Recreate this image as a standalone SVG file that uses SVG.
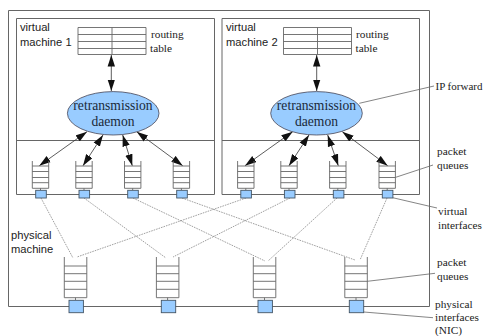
<svg xmlns="http://www.w3.org/2000/svg" width="483" height="336" viewBox="0 0 483 336">
<style>
text{fill:#222}
.s{font:11.2px "Liberation Sans",Arial,sans-serif}
.r{font:11.3px "Liberation Serif","Times New Roman",serif}
.d{font:13.6px "Liberation Serif","Times New Roman",serif;text-anchor:middle;fill:#1a2a3a}
.box{fill:none;stroke:#666;stroke-width:1}
.grid{fill:none;stroke:#666;stroke-width:.9}
.ell{fill:#99ccff;stroke:#445;stroke-width:.8}
.nic{fill:#99ccff;stroke:#456;stroke-width:.9}
.a{stroke:#333;stroke-width:.8;fill:none;marker-start:url(#h);marker-end:url(#h)}
.dash{stroke:#777;stroke-width:.7;stroke-dasharray:1.6 1;fill:none}
.lead{stroke:#666;stroke-width:.8;fill:none}
</style>
<defs>
<marker id="h" markerUnits="userSpaceOnUse" markerWidth="12" markerHeight="8" refX="11.500" refY="4" orient="auto-start-reverse"><path d="M0 .3L11.500 4L0 7.700Z" fill="#111"/></marker>
<path id="q" d="M0 0V27.300H16.400V0M0 5H16.400M0 10.500H16.400M0 16.500H16.400M0 21.700H16.400M8.200 27.300V29.300" class="grid"/>
<path id="Q" d="M0 0V40.700H22.500V0M0 9H22.500M0 16.700H22.500M0 24.300H22.500M0 32.300H22.500M11.200 40.700V43" class="grid"/>
<path id="t" d="M0 0H68V27H0ZM0 7H68M0 14H68M0 21H68M34 0V27" class="grid"/>
</defs>
<g id="physical-machine">
<path class="box" d="M8.500 10.500H429.500V306.500H8.500Z"/>
<text class="s" x="11" y="239">physical</text><text class="s" x="11" y="253">machine</text>
</g>
<g id="vm1">
<path class="box" d="M16.500 18.500H214.500V194.500H16.500ZM16.500 140.500H214.500"/>
<text class="s" x="20" y="31">virtual</text><text class="s" x="20" y="46">machine 1</text>
</g>
<g id="vm2">
<path class="box" d="M222 18.500H419.500V194.500H222ZM222 140.500H419.500"/>
<text class="s" x="226" y="31">virtual</text><text class="s" x="226" y="46">machine 2</text>
</g>
<g id="connectors">
<path class="a" d="M111.300 55V91"/><path class="a" d="M316.700 55V91"/>
<path class="a" d="M87 131.700L39.300 165.700"/><path class="a" d="M103 135L83 165.700"/><path class="a" d="M122.700 135L132.300 165.700"/><path class="a" d="M136.700 131.700L182.700 165.700"/>
<path class="a" d="M292.700 131.700L245 165.700"/><path class="a" d="M309 135L289 165.700"/><path class="a" d="M327.700 135L338.300 165.700"/><path class="a" d="M342.300 131.700L387.700 165.700"/>
<path class="dash" d="M41 198L73 258"/><path class="dash" d="M84 198L166 258"/><path class="dash" d="M133 198L265 261"/><path class="dash" d="M182 198L355 260"/>
<path class="dash" d="M246 198L77 257"/><path class="dash" d="M290 198L173 257"/><path class="dash" d="M337 198L268 261"/><path class="dash" d="M387 198L360 260"/>
<path class="lead" d="M359.300 103.300L434 86"/><path class="lead" d="M395.700 177.300L433 165"/><path class="lead" d="M392.700 197.700L437 208"/><path class="lead" d="M367.300 281.300L435 273.300"/><path class="lead" d="M363.700 312L433 317.700"/>
</g>
<g id="table1"><use href="#t" x="78" y="27.500"/><text class="r" x="151" y="38">routing</text><text class="r" x="150" y="52">table</text></g>
<g id="table2"><use href="#t" x="283.500" y="27.500"/><text class="r" x="356" y="38">routing</text><text class="r" x="355.500" y="52">table</text></g>
<g id="daemon1"><ellipse class="ell" cx="113.200" cy="113.300" rx="45.800" ry="21.700"/><text class="d" x="113" y="109.500">retransmission</text><text class="d" x="113" y="125.500">daemon</text></g>
<g id="daemon2"><ellipse class="ell" cx="316.500" cy="113.300" rx="45.800" ry="21.700"/><text class="d" x="316.500" y="109.500">retransmission</text><text class="d" x="316.500" y="125.500">daemon</text></g>
<g id="vm1-queue1"><use href="#q" x="32.300" y="161"/><rect class="nic" x="35.700" y="190.300" width="10.600" height="7.700"/></g>
<g id="vm1-queue2"><use href="#q" x="75.800" y="161"/><rect class="nic" x="79" y="190.300" width="10.600" height="7.700"/></g>
<g id="vm1-queue3"><use href="#q" x="124.500" y="161"/><rect class="nic" x="127.700" y="190.300" width="10.600" height="7.700"/></g>
<g id="vm1-queue4"><use href="#q" x="173.200" y="161"/><rect class="nic" x="176.700" y="190.300" width="10.600" height="7.700"/></g>
<g id="vm2-queue1"><use href="#q" x="237.600" y="161"/><rect class="nic" x="240.800" y="190.300" width="10.600" height="7.700"/></g>
<g id="vm2-queue2"><use href="#q" x="280.800" y="161"/><rect class="nic" x="284.400" y="190.300" width="10.600" height="7.700"/></g>
<g id="vm2-queue3"><use href="#q" x="329.600" y="161"/><rect class="nic" x="333.300" y="190.300" width="10.600" height="7.700"/></g>
<g id="vm2-queue4"><use href="#q" x="379" y="161"/><rect class="nic" x="382.300" y="190.300" width="10.600" height="7.700"/></g>
<g id="phys-queue1"><use href="#Q" x="64.300" y="257"/><rect class="nic" x="69" y="300.300" width="14.400" height="12.400"/></g>
<g id="phys-queue2"><use href="#Q" x="156.400" y="257"/><rect class="nic" x="161.300" y="300.300" width="14.400" height="12.400"/></g>
<g id="phys-queue3"><use href="#Q" x="253.300" y="257"/><rect class="nic" x="258" y="300.300" width="14.400" height="12.400"/></g>
<g id="phys-queue4"><use href="#Q" x="344.800" y="257"/><rect class="nic" x="349.300" y="300.300" width="14.400" height="12.400"/></g>
<g id="labels">
<text class="r" x="435.500" y="90" style="font-size:11px">IP forward</text>
<text class="r" x="437" y="155">packet</text><text class="r" x="437" y="169">queues</text>
<text class="r" x="438" y="215">virtual</text><text class="r" x="438" y="229">interfaces</text>
<text class="r" x="437" y="266">packet</text><text class="r" x="437" y="280">queues</text>
<text class="r" x="435" y="308">physical</text><text class="r" x="435" y="321">interfaces</text><text class="r" x="435" y="334">(NIC)</text>
</g>
</svg>
